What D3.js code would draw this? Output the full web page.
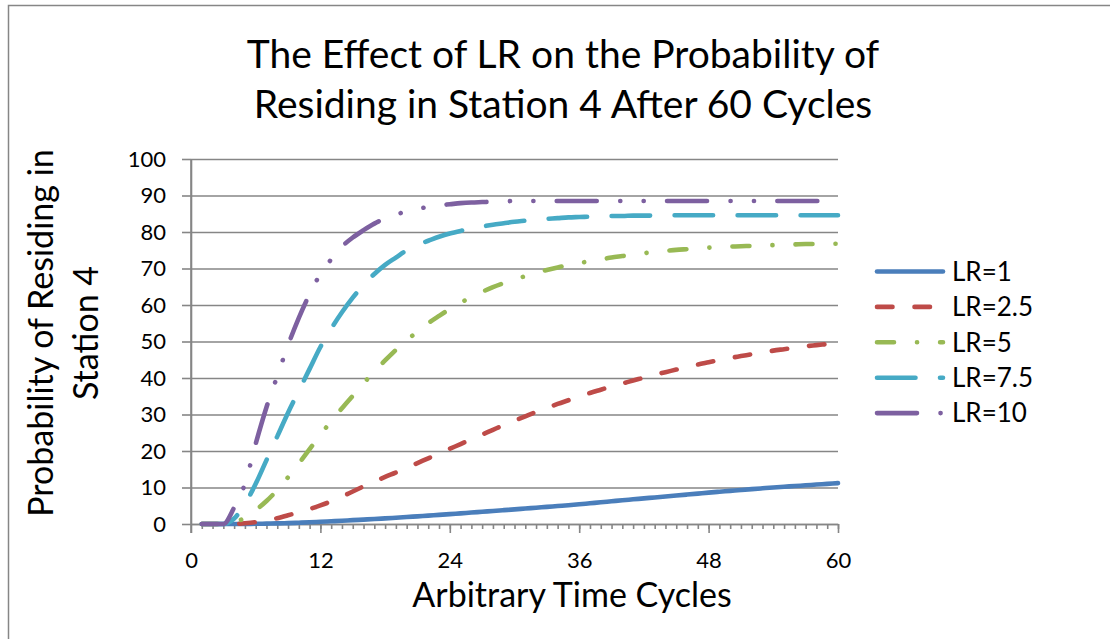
<!DOCTYPE html>
<html>
<head>
<meta charset="utf-8">
<script src="https://cdn.jsdelivr.net/npm/d3@7"></script>
<style>
  body { margin: 0; background: #fff; }
  svg text { font-family: Lato, "Open Sans", sans-serif; fill: #000; }
</style>
</head>
<body>
<div class="chartContainer"></div>
<script>
const cycles = d3.range(1, 61);

const lr1 = [0, 0, 0, 0, 0.02, 0.05, 0.1, 0.17, 0.25, 0.35,
  0.47, 0.6, 0.74, 0.89, 1.05, 1.2, 1.36, 1.53, 1.71, 1.9,
  2.1, 2.3, 2.5, 2.7, 2.92, 3.13, 3.35, 3.57, 3.79, 4.0,
  4.23, 4.46, 4.69, 4.92, 5.15, 5.4, 5.67, 5.94, 6.22, 6.5,
  6.76, 7.02, 7.28, 7.54, 7.8, 8.06, 8.33, 8.6, 8.84, 9.08,
  9.32, 9.55, 9.78, 10.0, 10.2, 10.4, 10.6, 10.8, 11.0, 11.2];

const lr2_5 = [0, 0, 0, 0, 0.2, 0.5, 1.0, 1.6, 2.4, 3.2,
  4.1, 5.1, 6.2, 7.5, 8.9, 10.3, 11.6, 12.9, 14.1, 15.4,
  16.7, 18.0, 19.3, 20.6, 21.9, 23.2, 24.5, 25.8, 27.1, 28.3,
  29.5, 30.7, 31.8, 32.9, 33.9, 34.9, 35.9, 36.8, 37.7, 38.5,
  39.3, 40.1, 40.9, 41.6, 42.3, 43.0, 43.7, 44.3, 44.9, 45.5,
  46.0, 46.5, 47.0, 47.5, 47.9, 48.3, 48.7, 49.0, 49.3, 49.6];

const lr5 = [0, 0, 0, 0.3, 1.8, 3.8, 6.3, 9.3, 12.8, 16.6,
  20.5, 24.4, 28.2, 31.7, 35.1, 38.5, 41.8, 44.8, 47.7, 50.3,
  52.7, 55.0, 57.0, 58.9, 60.6, 62.2, 63.6, 64.9, 66.0, 67.0,
  67.9, 68.8, 69.6, 70.3, 70.9, 71.5, 72.0, 72.5, 73.0, 73.4,
  73.8, 74.2, 74.5, 74.8, 75.1, 75.3, 75.5, 75.7, 75.9, 76.0,
  76.1, 76.2, 76.3, 76.4, 76.5, 76.6, 76.7, 76.7, 76.8, 76.8];

const lr7_5 = [0, 0, 0, 1.5, 5.5, 11, 17.5, 24, 30.5, 36.5,
  42.5, 48.5, 53.5, 58, 62, 65.5, 68.5, 71, 73, 75,
  76.5, 77.6, 78.7, 79.6, 80.3, 80.9, 81.5, 82, 82.4, 82.8,
  83.1, 83.4, 83.6, 83.8, 84, 84.1, 84.2, 84.3, 84.4, 84.4,
  84.5, 84.5, 84.5, 84.5, 84.6, 84.6, 84.6, 84.6, 84.6, 84.6,
  84.6, 84.6, 84.6, 84.6, 84.6, 84.6, 84.6, 84.6, 84.6, 84.6];

const lr10 = [0, 0, 0, 4.5, 11, 22, 32, 40.5, 49, 56.5,
  63, 68.5, 72.5, 76, 78.5, 80.5, 82.3, 83.7, 84.8, 85.6,
  86.3, 86.9, 87.3, 87.6, 87.9, 88.1, 88.2, 88.3, 88.4, 88.5,
  88.5, 88.5, 88.5, 88.5, 88.5, 88.5, 88.5, 88.5, 88.5, 88.5,
  88.5, 88.5, 88.5, 88.5, 88.5, 88.5, 88.5, 88.5, 88.5, 88.5,
  88.5, 88.5, 88.5, 88.5, 88.5, 88.5, 88.5, 88.5, 88.5, 88.5];

const seriesNames = ['LR=1', 'LR=2.5', 'LR=5', 'LR=7.5', 'LR=10'];
const seriesValues = [lr1, lr2_5, lr5, lr7_5, lr10];
const xTicks = [0, 12, 24, 36, 48, 60];
const yTicks = [0, 10, 20, 30, 40, 50, 60, 70, 80, 90, 100];

// excel-ish line styles
const colors = ['#4a7ebb', '#be4b48', '#98b954', '#46aac5', '#7d60a0'];
const dashes = [null, '15.5,22', '17,23,0.1,23', '38.5,24.5', '40,23.5,0.1,23.3,0.1,23.3'];

const width = 1110, height = 639;
const margin = { top: 159, right: 272, bottom: 115, left: 191 };
const plotW = width - margin.left - margin.right,
  plotH = height - margin.top - margin.bottom;

const svg = d3.select('.chartContainer')
  .append('svg')
  .attr('width', width)
  .attr('height', height);

// outer chart frame (only left/top edges fall inside the picture)
svg.append('rect')
  .attr('x', 8.5).attr('y', 5.5)
  .attr('width', 1300).attr('height', 800)
  .attr('fill', 'none')
  .attr('stroke', '#868686')
  .attr('stroke-width', 1.5);

const x = d3.scaleLinear().domain([0, 60]).range([0, plotW]);
const y = d3.scaleLinear().domain([0, 100]).range([plotH, 0]);

const g = svg.append('g')
  .attr('transform', 'translate(' + margin.left + ',' + margin.top + ')');

// gridlines
g.append('g')
  .attr('class', 'grid')
  .call(d3.axisLeft(y).tickValues(yTicks).tickSize(-plotW).tickFormat(''))
  .call(s => s.select('.domain').remove())
  .selectAll('line')
  .attr('stroke', '#868686')
  .attr('stroke-width', 1.6);

// y axis
const yAxis = g.append('g')
  .attr('class', 'y axis')
  .call(d3.axisLeft(y).tickValues(yTicks).tickSize(9).tickSizeOuter(0).tickPadding(16));

// x axis minor ticks
g.append('g')
  .attr('class', 'x minor')
  .attr('transform', 'translate(0,' + plotH + ')')
  .call(d3.axisBottom(x).tickValues(cycles).tickSize(5).tickFormat(''))
  .call(s => s.select('.domain').remove());

const xAxis = g.append('g')
  .attr('class', 'x axis')
  .attr('transform', 'translate(0,' + plotH + ')')
  .call(d3.axisBottom(x).tickValues(xTicks).tickSize(9).tickSizeOuter(0).tickPadding(19));

svg.selectAll('.axis path, .axis line, .minor line')
  .attr('stroke', '#868686')
  .attr('stroke-width', 1.6);

// y axis line extends below the x axis like excel's crossing tick
g.append('line')
  .attr('x1', 0).attr('x2', 0)
  .attr('y1', 0).attr('y2', plotH + 9)
  .attr('stroke', '#868686')
  .attr('stroke-width', 1.6);

svg.selectAll('.axis text')
  .style('font-size', '22px')
  .attr('fill', '#000');

// series
const line = d3.line()
  .x((d, i) => x(cycles[i]))
  .y(d => y(d))
  .curve(d3.curveMonotoneX);

seriesValues.forEach((vals, i) => {
  g.append('path')
    .datum(vals)
    .attr('fill', 'none')
    .attr('stroke', colors[i])
    .attr('stroke-width', 4.6)
    .attr('stroke-linecap', 'round')
    .attr('stroke-linejoin', 'round')
    .attr('stroke-dasharray', dashes[i])
    .attr('d', line);
});

// titles
const title = svg.append('text')
  .attr('text-anchor', 'middle')
  .style('font-size', '39px');
title.append('tspan').attr('x', 563).attr('y', 68).text('The Effect of LR on the Probability of');
title.append('tspan').attr('x', 563).attr('y', 118).text('Residing in Station 4 After 60 Cycles');

svg.append('text')
  .attr('x', 572).attr('y', 607)
  .attr('text-anchor', 'middle')
  .style('font-size', '34px')
  .text('Arbitrary Time Cycles');

const yTitle = svg.append('text')
  .attr('transform', 'translate(0,333) rotate(-90)')
  .attr('text-anchor', 'middle')
  .style('font-size', '34px');
yTitle.append('tspan').attr('x', 0).attr('y', 53).text('Probability of Residing in');
yTitle.append('tspan').attr('x', 0).attr('y', 98).text('Station 4');

// legend
const legend = svg.append('g')
  .attr('class', 'legend')
  .attr('transform', 'translate(877,271.5)');

seriesNames.forEach((name, i) => {
  const row = legend.append('g').attr('transform', 'translate(0,' + (i * 35.4) + ')');
  row.append('line')
    .attr('x1', 0).attr('x2', 66)
    .attr('stroke', colors[i])
    .attr('stroke-width', 4.6)
    .attr('stroke-linecap', 'round')
    .attr('stroke-dasharray', dashes[i]);
  row.append('text')
    .attr('x', 75)
    .attr('dy', '0.36em')
    .style('font-size', '26px')
    .text(name);
});
</script>
</body>
</html>
